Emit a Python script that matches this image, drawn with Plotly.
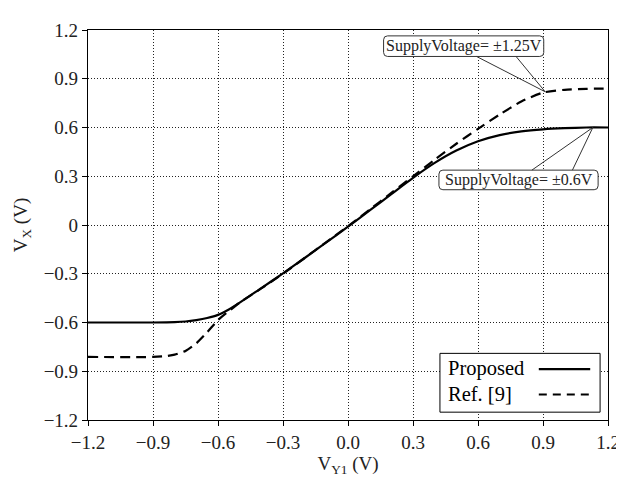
import plotly.graph_objects as go

# ---- data ----
proposed_x = [-1.2, -0.9, -0.8, -0.75, -0.7, -0.65, -0.6, -0.55, -0.5, -0.4, -0.3, -0.2, -0.1, 0.0,
              0.1, 0.2, 0.3, 0.4, 0.5, 0.6, 0.7, 0.8, 0.9, 1.0, 1.1, 1.2]
proposed_y = [-0.6, -0.6, -0.598, -0.594, -0.585, -0.572, -0.553, -0.52, -0.478, -0.388, -0.298, -0.203, -0.107, -0.01,
              0.09, 0.19, 0.29, 0.382, 0.458, 0.515, 0.553, 0.576, 0.589, 0.596, 0.6, 0.6]

ref_x = [-1.2, -0.9, -0.85, -0.8, -0.75, -0.7, -0.65, -0.6, -0.55, -0.5, -0.4, -0.3, -0.2, -0.1, 0.0,
         0.1, 0.2, 0.3, 0.4, 0.5, 0.6, 0.7, 0.8, 0.9, 1.0, 1.1, 1.2]
ref_y = [-0.812, -0.812, -0.808, -0.798, -0.775, -0.728, -0.66, -0.585, -0.53, -0.478, -0.39, -0.3, -0.203, -0.105, -0.008,
         0.095, 0.197, 0.3, 0.402, 0.5, 0.592, 0.68, 0.76, 0.815, 0.832, 0.838, 0.84]

x_ticks = [-1.2, -0.9, -0.6, -0.3, 0.0, 0.3, 0.6, 0.9, 1.2]
x_tick_labels = ["\u22121.2", "\u22120.9", "\u22120.6", "\u22120.3", "0.0", "0.3", "0.6", "0.9", "1.2"]
y_ticks = [-1.2, -0.9, -0.6, -0.3, 0.0, 0.3, 0.6, 0.9, 1.2]
y_tick_labels = ["\u22121.2", "\u22120.9", "\u22120.6", "\u22120.3", "0", "0.3", "0.6", "0.9", "1.2"]

series_names = ["Proposed", "Ref. [9]"]
ann_texts = ["SupplyVoltage= \u00b11.25V", "SupplyVoltage= \u00b10.6V"]
ann_points = [(0.91, 0.82), (1.13, 0.6)]

FONT = "Liberation Serif"

# pixel layout of the plot area
W, H = 624, 483
L, R, T, B = 77, 21, 14, 71
PX0, PX1 = L, W - R
PY0, PY1 = T, H - B


def dx(px):
    return -1.2 + (px - PX0) / (PX1 - PX0) * 2.4


def dy(py):
    return 1.2 - (py - PY0) / (PY1 - PY0) * 2.4


def rounded_rect(x0, y0, x1, y1, r):
    return (f"M {dx(x0 + r)},{dy(y0)} L {dx(x1 - r)},{dy(y0)} "
            f"Q {dx(x1)},{dy(y0)} {dx(x1)},{dy(y0 + r)} L {dx(x1)},{dy(y1 - r)} "
            f"Q {dx(x1)},{dy(y1)} {dx(x1 - r)},{dy(y1)} L {dx(x0 + r)},{dy(y1)} "
            f"Q {dx(x0)},{dy(y1)} {dx(x0)},{dy(y1 - r)} L {dx(x0)},{dy(y0 + r)} "
            f"Q {dx(x0)},{dy(y0)} {dx(x0 + r)},{dy(y0)} Z")


fig = go.Figure()
fig.add_trace(go.Scatter(x=proposed_x, y=proposed_y, mode="lines", name=series_names[0],
                         line=dict(color="black", width=2.2, shape="spline", smoothing=0.6),
                         showlegend=False))
fig.add_trace(go.Scatter(x=ref_x, y=ref_y, mode="lines", name=series_names[1],
                         line=dict(color="black", width=2.2, dash="10px,6px", shape="spline", smoothing=0.6),
                         showlegend=False))

shapes = []
annotations = []

# callout boxes (pixel boxes) and leader lines
boxes = [(376, 20, 538, 41), (432, 157, 593, 177)]
leader_starts = [[(470, 41), (510, 41)], [(526, 157), (567, 157)]]
for i, (bx0, by0, bx1, by1) in enumerate(boxes):
    shapes.append(dict(type="path", path=rounded_rect(bx0, by0, bx1, by1, 4), xref="x", yref="y",
                       line=dict(color="#333", width=1), fillcolor="white", layer="above"))
    for (sx, sy) in leader_starts[i]:
        shapes.append(dict(type="line", xref="x", yref="y", x0=dx(sx), y0=dy(sy),
                           x1=ann_points[i][0], y1=ann_points[i][1],
                           line=dict(color="#333", width=1), layer="above"))
    annotations.append(dict(x=dx((bx0 + bx1) / 2), y=dy((by0 + by1) / 2), xref="x", yref="y",
                            text=ann_texts[i], showarrow=False,
                            font=dict(family=FONT, size=16, color="#222")))

# legend box
shapes.append(dict(type="rect", xref="x", yref="y", x0=dx(433), y0=dy(344), x1=dx(595), y1=dy(404),
                   line=dict(color="black", width=1), fillcolor="white", layer="above"))
legend_rows = [359, 385]
for i, name in enumerate(series_names):
    annotations.append(dict(x=dx(439), y=dy(legend_rows[i]), xref="x", yref="y", xanchor="left",
                            text=name, showarrow=False,
                            font=dict(family=FONT, size=20.5, color="black")))
    shapes.append(dict(type="line", xref="x", yref="y", x0=dx(533), x1=dx(585),
                       y0=dy(legend_rows[i] + 1), y1=dy(legend_rows[i] + 1),
                       line=dict(color="black", width=2.2, dash="solid" if i == 0 else "8px,6px"),
                       layer="above"))

fig.update_layout(
    width=W, height=H,
    margin=dict(l=L, r=R, t=T, b=B),
    font=dict(family=FONT, size=19, color="#222"),
    paper_bgcolor="white", plot_bgcolor="white",
    shapes=shapes,
    annotations=annotations,
    showlegend=False,
)

for upd, tv, tt, title, standoff in [
    (fig.update_xaxes, x_ticks, x_tick_labels, "V<sub>Y1</sub> (V)", 4),
    (fig.update_yaxes, y_ticks, y_tick_labels, "V<sub>X</sub> (V)", 10),
]:
    upd(range=[-1.2, 1.2], autorange=False,
        showgrid=True, gridcolor="#222", griddash="1px,2px", gridwidth=1,
        showline=True, linecolor="black", linewidth=1.2, mirror=True,
        ticks="outside", ticklen=5, tickcolor="black", tickwidth=1,
        tickmode="array", tickvals=tv, ticktext=tt,
        tickfont_family=FONT, tickfont_size=19, tickfont_color="#222",
        zeroline=False,
        title_text=title, title_font_family=FONT, title_font_size=19, title_standoff=standoff)

fig.write_html("out.html")
